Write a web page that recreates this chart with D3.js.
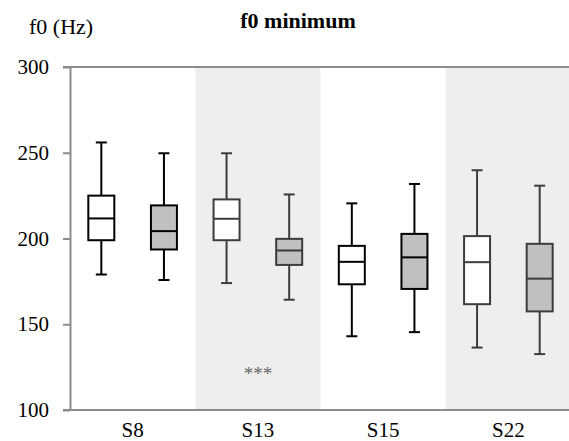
<!DOCTYPE html>
<html>
<head>
<meta charset="utf-8">
<script src="https://cdn.jsdelivr.net/npm/d3@7"></script>
<style>
  html, body { margin: 0; padding: 0; background: #fff; }
</style>
</head>
<body>
<svg id="chart" width="569" height="441"></svg>
<script>
// ---- data ----
const categories = ["S8", "S13", "S15", "S22"];
const groups = ["white", "gray"];
// [min, q1, median, q3, max]
const whiteStats = [
  [179, 199, 211.7, 225, 256],
  [174, 199, 211.5, 222.8, 249.7],
  [143, 173.3, 186.4, 195.7, 220.5],
  [136.4, 161.7, 186.2, 201.4, 239.8]
];
const grayStats = [
  [175.8, 193.6, 204.3, 219.3, 249.7],
  [164.3, 184.6, 193, 199.8, 225.7],
  [145.4, 170.6, 189, 202.7, 231.8],
  [132.6, 157.5, 176.6, 196.9, 230.8]
];
const yTicks = [100, 150, 200, 250, 300];
const title = "f0 minimum";
const yTitle = "f0 (Hz)";
const annotations = [{ category: "S13", value: 125, text: "***" }];

// ---- chart ----
const svg = d3.select("#chart");
const mLeft = 70, mRight = 571, mTop = 67, mBottom = 410;
const serif = "'Liberation Serif', 'Times New Roman', 'DejaVu Serif', serif";

const x = d3.scaleBand().domain(categories).range([mLeft, mRight]).padding(0);
const xSub = d3.scalePoint().domain(groups).range([0, x.bandwidth()]).padding(0.5);
const y = d3.scaleLinear().domain([100, 300]).range([mBottom, mTop]);

// alternating shaded bands
svg.append("g").selectAll("rect")
  .data(categories.filter((d, i) => i % 2 === 1))
  .join("rect")
  .attr("x", d => x(d))
  .attr("y", y(300))
  .attr("width", x.bandwidth())
  .attr("height", y(100) - y(300))
  .attr("fill", "#eeeeee");

// top border
svg.append("line")
  .attr("x1", mLeft - 7).attr("x2", mRight)
  .attr("y1", y(300)).attr("y2", y(300))
  .attr("stroke", "#8c8c8c").attr("stroke-width", 2);

// y axis
const yAxis = svg.append("g")
  .attr("transform", `translate(${mLeft},0)`)
  .call(d3.axisLeft(y).tickValues(yTicks).tickSize(7).tickSizeOuter(0).tickPadding(14));
yAxis.attr("font-family", null).attr("font-size", null);
yAxis.select(".domain").attr("stroke", "#8c8c8c").attr("stroke-width", 2);
yAxis.selectAll(".tick line").attr("stroke", "#8c8c8c").attr("stroke-width", 2);
yAxis.selectAll(".tick text")
  .style("font-size", "21px").attr("fill", "#000")
  .style("font-family", serif);

// x axis
const xAxis = svg.append("g")
  .attr("transform", `translate(0,${mBottom})`)
  .call(d3.axisBottom(x).tickSize(0).tickSizeOuter(0));
xAxis.attr("font-family", null).attr("font-size", null);
xAxis.select(".domain").attr("stroke", "#8c8c8c").attr("stroke-width", 2)
  .attr("d", `M${mLeft - 7},0H${mRight}`);
xAxis.selectAll(".tick text")
  .style("font-size", "21px").attr("fill", "#000")
  .style("font-family", serif)
  .attr("dy", 0).attr("y", 27);

// boxes
const boxW = 26, capW = 11;
const boxData = [];
categories.forEach((c, ci) => {
  boxData.push({ cat: c, ci, group: "white", s: whiteStats[ci] });
  boxData.push({ cat: c, ci, group: "gray", s: grayStats[ci] });
});

const boxes = svg.append("g").selectAll("g")
  .data(boxData)
  .join("g")
  .attr("transform", d => `translate(${x(d.cat) + xSub(d.group)},0)`);

const strokeOf = d => (d.ci % 2 === 1 ? "#3c3c3c" : "#000");

// whiskers
boxes.append("line")
  .attr("x1", 0).attr("x2", 0)
  .attr("y1", d => y(d.s[4])).attr("y2", d => y(d.s[3]))
  .attr("stroke", strokeOf).attr("stroke-width", 2);
boxes.append("line")
  .attr("x1", 0).attr("x2", 0)
  .attr("y1", d => y(d.s[1])).attr("y2", d => y(d.s[0]))
  .attr("stroke", strokeOf).attr("stroke-width", 2);
// caps
boxes.append("line")
  .attr("x1", -capW / 2).attr("x2", capW / 2)
  .attr("y1", d => y(d.s[4])).attr("y2", d => y(d.s[4]))
  .attr("stroke", strokeOf).attr("stroke-width", 2);
boxes.append("line")
  .attr("x1", -capW / 2).attr("x2", capW / 2)
  .attr("y1", d => y(d.s[0])).attr("y2", d => y(d.s[0]))
  .attr("stroke", strokeOf).attr("stroke-width", 2);
// box
boxes.append("rect")
  .attr("x", -boxW / 2).attr("width", boxW)
  .attr("y", d => y(d.s[3]))
  .attr("height", d => y(d.s[1]) - y(d.s[3]))
  .attr("fill", d => d.group === "gray" ? "#c0c0c0" : "#fff")
  .attr("stroke", strokeOf).attr("stroke-width", 2);
// median
boxes.append("line")
  .attr("x1", -boxW / 2).attr("x2", boxW / 2)
  .attr("y1", d => y(d.s[2])).attr("y2", d => y(d.s[2]))
  .attr("stroke", strokeOf).attr("stroke-width", 2);

// annotation
svg.append("g").selectAll("text")
  .data(annotations)
  .join("text")
  .attr("x", d => x(d.category) + x.bandwidth() / 2)
  .attr("y", d => y(d.value) + 13)
  .attr("text-anchor", "middle")
  .style("font-size", "19px")
  .style("font-family", serif)
  .attr("fill", "#666")
  .text(d => d.text);

// titles
svg.append("text")
  .attr("x", 298).attr("y", 28)
  .attr("text-anchor", "middle")
  .style("font-size", "22px").attr("font-weight", "bold")
  .style("font-family", serif)
  .text(title);
svg.append("text")
  .attr("x", 29).attr("y", 34)
  .style("font-size", "22px")
  .style("font-family", serif)
  .text(yTitle);
</script>
</body>
</html>
